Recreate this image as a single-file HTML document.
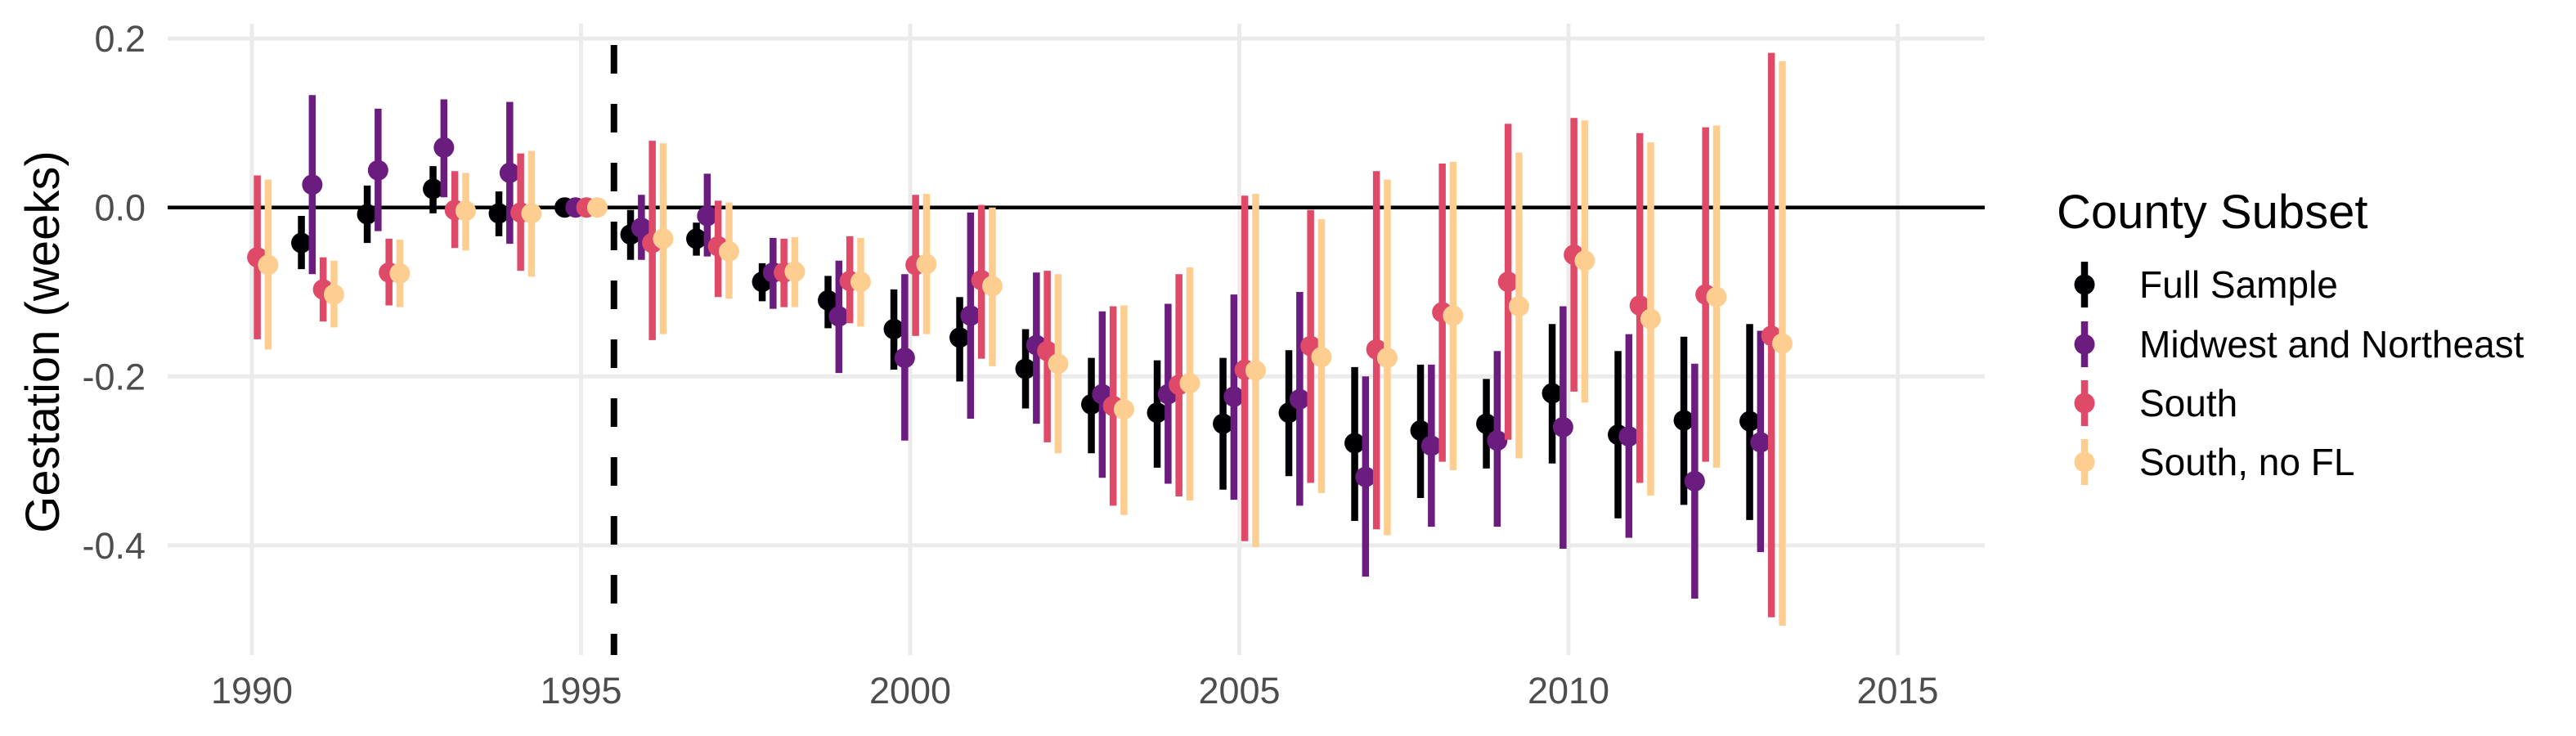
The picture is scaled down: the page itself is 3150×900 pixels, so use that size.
<!DOCTYPE html>
<html><head><meta charset="utf-8"><style>
body{margin:0;background:#fff;}
svg{display:block;font-family:"Liberation Sans",sans-serif;}
</style></head><body>
<svg id="chart" width="3150" height="900" viewBox="0 0 3150 900" xmlns="http://www.w3.org/2000/svg">
<g id="grid"></g>
<g id="marks"></g>
<g id="axes"></g>
<text transform="translate(72,418) rotate(-90)" text-anchor="middle" font-size="58" fill="#000">Gestation (weeks)</text>
<g id="legend">
<text x="2515" y="279" font-size="58" fill="#000">County Subset</text>
</g>
</svg>
<script>
const years = [1990,1991,1992,1993,1994,1995,1996,1997,1998,1999,2000,2001,2002,2003,2004,2005,2006,2007,2008,2009,2010,2011,2012,2013];
const seriesNames = ["Full Sample","Midwest and Northeast","South","South, no FL"];
const fullEst = [null,-0.042,-0.008,0.022,-0.007,0,-0.032,-0.037,-0.088,-0.11,-0.144,-0.154,-0.191,-0.233,-0.243,-0.256,-0.243,-0.279,-0.264,-0.256,-0.22,-0.269,-0.252,-0.253];
const fullLo = [null,-0.073,-0.042,-0.007,-0.034,0,-0.062,-0.057,-0.111,-0.143,-0.192,-0.206,-0.238,-0.291,-0.308,-0.334,-0.318,-0.371,-0.344,-0.309,-0.303,-0.368,-0.352,-0.37];
const fullHi = [null,-0.01,0.026,0.049,0.019,0,-0.003,-0.018,-0.066,-0.081,-0.097,-0.106,-0.144,-0.178,-0.181,-0.178,-0.169,-0.189,-0.186,-0.203,-0.138,-0.17,-0.153,-0.138];
const mwEst = [null,0.027,0.044,0.071,0.041,0,-0.024,-0.01,-0.077,-0.129,-0.178,-0.128,-0.163,-0.221,-0.221,-0.224,-0.227,-0.319,-0.282,-0.276,-0.26,-0.271,-0.324,-0.278];
const mwLo = [null,-0.079,-0.028,0.012,-0.043,0,-0.062,-0.058,-0.12,-0.196,-0.276,-0.25,-0.256,-0.32,-0.327,-0.346,-0.353,-0.437,-0.378,-0.378,-0.404,-0.391,-0.463,-0.408];
const mwHi = [null,0.133,0.117,0.128,0.125,0,0.015,0.04,-0.036,-0.063,-0.079,-0.006,-0.077,-0.123,-0.114,-0.103,-0.1,-0.2,-0.186,-0.17,-0.117,-0.15,-0.185,-0.146];
const southEst = [-0.059,-0.097,-0.077,-0.003,-0.006,0,-0.042,-0.046,-0.077,-0.087,-0.068,-0.086,-0.17,-0.235,-0.21,-0.192,-0.164,-0.168,-0.124,-0.088,-0.056,-0.116,-0.103,-0.152];
const southLo = [-0.156,-0.135,-0.116,-0.048,-0.075,0,-0.157,-0.106,-0.118,-0.137,-0.152,-0.179,-0.278,-0.353,-0.342,-0.395,-0.326,-0.381,-0.301,-0.275,-0.218,-0.326,-0.301,-0.485];
const southHi = [0.038,-0.059,-0.037,0.043,0.064,0,0.079,0.008,-0.037,-0.034,0.015,0.003,-0.075,-0.117,-0.079,0.014,-0.003,0.043,0.052,0.099,0.106,0.088,0.095,0.183];
const noflEst = [-0.068,-0.103,-0.078,-0.004,-0.007,0,-0.037,-0.052,-0.076,-0.088,-0.067,-0.093,-0.185,-0.239,-0.208,-0.193,-0.177,-0.178,-0.128,-0.117,-0.063,-0.132,-0.106,-0.161];
const noflLo = [-0.168,-0.142,-0.118,-0.051,-0.082,0,-0.15,-0.108,-0.118,-0.141,-0.15,-0.188,-0.291,-0.364,-0.347,-0.402,-0.338,-0.388,-0.311,-0.297,-0.231,-0.341,-0.308,-0.495];
const noflHi = [0.033,-0.063,-0.038,0.041,0.067,0,0.076,0.006,-0.035,-0.036,0.016,0,-0.079,-0.116,-0.071,0.016,-0.014,0.033,0.054,0.065,0.103,0.077,0.097,0.173];
const yTicks = [0.2,0.0,-0.2,-0.4];
const yTickLabels = ["0.2","0.0","-0.2","-0.4"];
const xTicks = [1990,1995,2000,2005,2010,2015];
const treatmentYear = 1995.5;

const NS="http://www.w3.org/2000/svg";
const L=205,R=2427,T=29,B=801;
const x = yr => 308 + (yr-1990)*80.5;
const y = v => 253.7 - v*1033;
const colors=["#000004","#6B1C7F","#DF4A69","#FECE91"];
const est=[fullEst,mwEst,southEst,noflEst], lo=[fullLo,mwLo,southLo,noflLo], hi=[fullHi,mwHi,southHi,noflHi];
function mk(tag,attrs,parent){const e=document.createElementNS(NS,tag);for(const k in attrs)e.setAttribute(k,attrs[k]);parent.appendChild(e);return e;}
const grid=document.getElementById('grid'),marks=document.getElementById('marks'),axes=document.getElementById('axes'),legend=document.getElementById('legend');
yTicks.forEach((t,i)=>{
  const g=mk('line',{x1:L,x2:R,y1:y(t),y2:y(t),stroke:'#ebebeb','stroke-width':5},grid);
  
  
  const tx=mk('text',{x:178,y:y(t)+16,'text-anchor':'end','font-size':45,fill:'#4d4d4d'},axes);
  tx.textContent=yTickLabels[i];
  
  
});
xTicks.forEach(t=>{
  const g=mk('line',{x1:x(t),x2:x(t),y1:T,y2:B,stroke:'#ebebeb','stroke-width':5},grid);
  
  
  const tx=mk('text',{x:x(t),y:860,'text-anchor':'middle','font-size':45,fill:'#4d4d4d'},axes);
  tx.textContent=String(t);
  
  
});
const zl=mk('line',{x1:L,x2:R,y1:y(0),y2:y(0),stroke:'#000','stroke-width':4.5},grid);


const dl=mk('line',{x1:x(treatmentYear),x2:x(treatmentYear),y1:55,y2:B,stroke:'#000','stroke-width':8,'stroke-dasharray':'35 37'},grid);


const step=13.3;
for(let s=0;s<4;s++){
  const off=(s-1.5)*step;
  years.forEach((yr,i)=>{
    const v=est[s][i]; if(v===null) return;
    const cx=x(yr)+off;
    if(lo[s][i]!==hi[s][i]){
      const b=mk('line',{x1:cx,x2:cx,y1:y(hi[s][i]),y2:y(lo[s][i]),stroke:colors[s],'stroke-width':8.5},marks);
      
      
    }
    const c=mk('circle',{cx:cx,cy:y(v),r:12.5,fill:colors[s]},marks);
    
    
  });
}
const ly=[348,421,493,565];
seriesNames.forEach((n,i)=>{
  const g=mk('g',{},legend);
  
  
  mk('line',{x1:2549,x2:2549,y1:ly[i]-28,y2:ly[i]+28,stroke:colors[i],'stroke-width':8.5},g);
  mk('circle',{cx:2549,cy:ly[i],r:12.5,fill:colors[i]},g);
  const t=mk('text',{x:2616,y:ly[i]+16,'font-size':46,fill:'#000'},g);
  t.textContent=n;
});
</script>
</body></html>
